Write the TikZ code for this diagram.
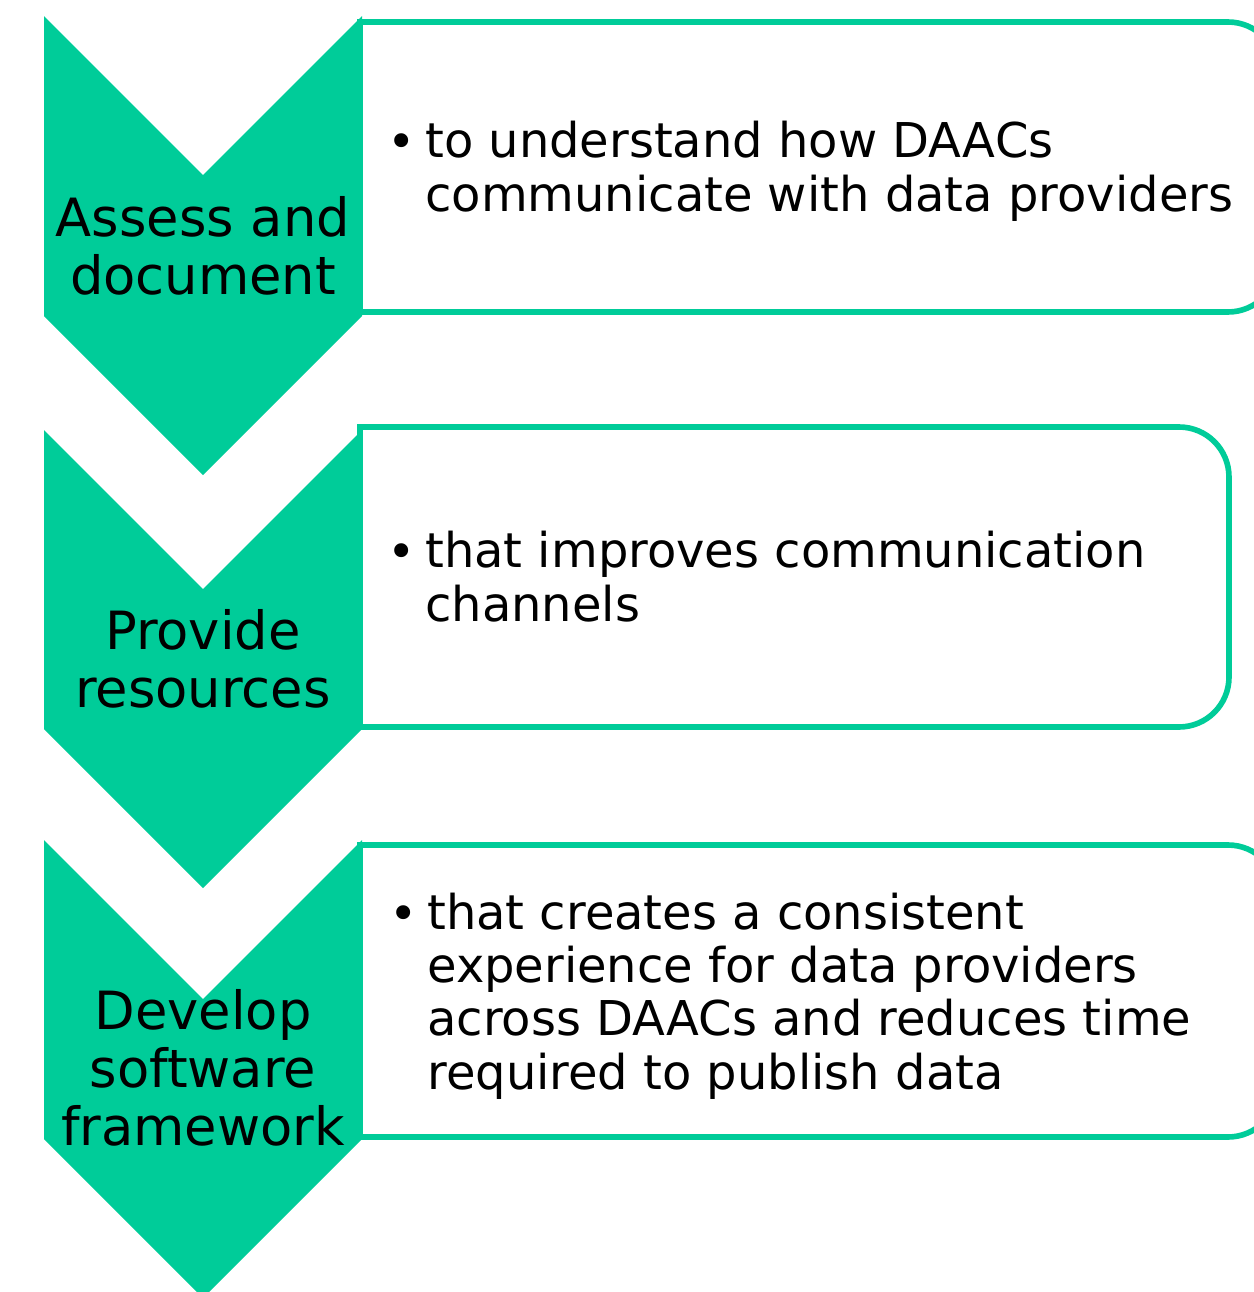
\documentclass[tikz,border=0pt]{standalone}
\usepackage{fontspec}
\setmainfont{DejaVu Sans}
\usepackage{xcolor}
\definecolor{chevgreen}{HTML}{00CC99}

\begin{document}
\begin{tikzpicture}[x=0.02cm, y=-0.02cm,
    chevron/.style={fill=chevgreen, draw=none},
    stepbox/.style={draw=chevgreen, line width=3.2pt, fill=white},
    steplabel/.style={align=center, inner sep=0pt, font=\fontsize{30}{33}\selectfont},
    bulletdot/.style={anchor=base west, inner sep=0pt, font=\fontsize{27.3}{30.2}\selectfont},
    bullettext/.style={align=left, anchor=base west, inner sep=0pt, font=\fontsize{27.3}{30.2}\selectfont}]
\useasboundingbox (0,0) rectangle (1254,1292);

\draw[stepbox] (360,22) -- (1228,22) arc[start angle=90, end angle=0, radius=1cm]
    -- (1278,262) arc[start angle=0, end angle=-90, radius=1cm] -- (360,312) -- cycle;
\draw[stepbox] (360,427) -- (1179,427) arc[start angle=90, end angle=0, radius=1cm]
    -- (1229,677) arc[start angle=0, end angle=-90, radius=1cm] -- (360,727) -- cycle;
\draw[stepbox] (360,845) -- (1228,845) arc[start angle=90, end angle=0, radius=1cm]
    -- (1278,1087) arc[start angle=0, end angle=-90, radius=1cm] -- (360,1137) -- cycle;

\fill[chevron] (44,16) -- (203,175) -- (362,16) -- (362,316) -- (203,475) -- (44,316) -- cycle;
\fill[chevron] (44,430) -- (203,589) -- (362,430) -- (362,729) -- (203,888) -- (44,729) -- cycle;
\fill[chevron] (44,840) -- (203,999) -- (362,840) -- (362,1139) -- (203,1298) -- (44,1139) -- cycle;

\node[steplabel] (assess) at (203,246) {Assess and\\document};
\node[steplabel] (provide) at (203,659) {Provide\\resources};
\node[steplabel] (develop) at (203,1068) {Develop\\software\\framework};

% multi-line text sits on the baseline of its last line
\node[bulletdot] (dot_1) at (387,158) {\textbullet};
\node[bullettext] (text_1) at (425,211) {to understand how DAACs\\communicate with data providers};

\node[bulletdot] (dot_2) at (387,568) {\textbullet};
\node[bullettext] (text_2) at (425,621) {that improves communication\\channels};

\node[bulletdot] (dot_3) at (389,930) {\textbullet};
\node[bullettext] (text_3) at (427,1089) {that creates a consistent\\experience for data providers\\across DAACs and reduces time\\required to publish data};

\end{tikzpicture}
\end{document}
